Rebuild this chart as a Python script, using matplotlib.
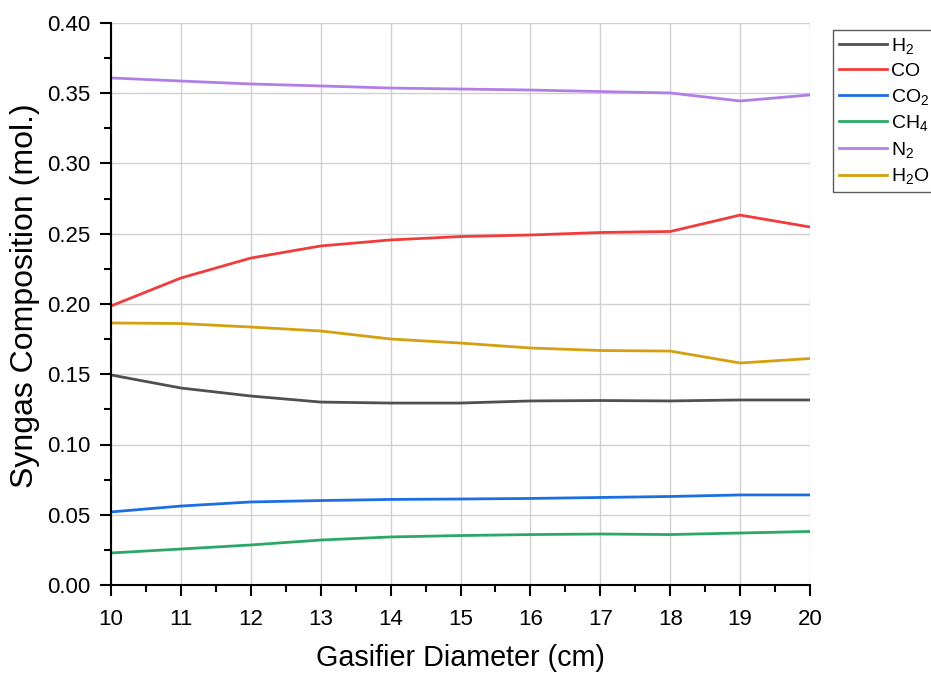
import matplotlib
matplotlib.use("Agg")
import matplotlib.pyplot as plt
from matplotlib.ticker import MultipleLocator, FormatStrFormatter

plt.rcParams['font.family'] = ['Liberation Sans', 'DejaVu Sans']
plt.rcParams['mathtext.default'] = 'regular'

diameter = [10, 11, 12, 13, 14, 15, 16, 17, 18, 19, 20]
h2 = [0.1495, 0.1402, 0.1345, 0.1302, 0.1295, 0.1295, 0.1310, 0.1313, 0.1310, 0.1317, 0.1317]
co = [0.1986, 0.2185, 0.2327, 0.2413, 0.2456, 0.2480, 0.2491, 0.2509, 0.2516, 0.2633, 0.2548]
co2 = [0.0520, 0.0562, 0.0591, 0.0601, 0.0609, 0.0612, 0.0616, 0.0623, 0.0630, 0.0641, 0.0641]
ch4 = [0.0228, 0.0256, 0.0285, 0.0320, 0.0342, 0.0352, 0.0359, 0.0363, 0.0359, 0.0370, 0.0381]
n2 = [0.3609, 0.3587, 0.3566, 0.3552, 0.3537, 0.3530, 0.3523, 0.3512, 0.3502, 0.3445, 0.3488]
h2o = [0.1865, 0.1861, 0.1836, 0.1808, 0.1751, 0.1722, 0.1687, 0.1669, 0.1665, 0.1580, 0.1612]

series = [
    ("H$_2$", h2, "#505050"),
    ("CO", co, "#f03c3c"),
    ("CO$_2$", co2, "#1c6fe0"),
    ("CH$_4$", ch4, "#2ca866"),
    ("N$_2$", n2, "#b27ee6"),
    ("H$_2$O", h2o, "#d4a010"),
]

fig = plt.figure(figsize=(9.31, 6.74), dpi=100)
ax = fig.add_axes([111/931, 89/674, (810-111)/931, (585-23)/674])

for label, vals, color in series:
    ax.plot(diameter, vals, color=color, lw=2, label=label)

ax.set_xlim(10, 20)
ax.set_ylim(0, 0.40)
ax.xaxis.set_major_locator(MultipleLocator(1))
ax.xaxis.set_minor_locator(MultipleLocator(0.5))
ax.yaxis.set_major_locator(MultipleLocator(0.05))
ax.yaxis.set_minor_locator(MultipleLocator(0.025))
ax.yaxis.set_major_formatter(FormatStrFormatter('%.2f'))
ax.grid(True, which='major', color='#d0d0d0', lw=1)
ax.set_axisbelow(True)
for s in ['top', 'right']:
    ax.spines[s].set_visible(False)
for s in ['left', 'bottom']:
    ax.spines[s].set_linewidth(1.5)
ax.tick_params(which='major', direction='out', length=8, width=1.5, labelsize=16)
ax.tick_params(axis='x', which='major', pad=9)
ax.tick_params(axis='y', which='major', pad=7)
ax.tick_params(which='minor', direction='out', length=5, width=1.5)
ax.set_xlabel("Gasifier Diameter (cm)", fontsize=20.7, labelpad=10)
ax.set_ylabel("Syngas Composition (mol.)", fontsize=23)
ax.yaxis.set_label_coords(-0.1016, 0.515)

leg = fig.legend(loc='upper left', bbox_to_anchor=(833/931, 1 - 30/674),
                 frameon=True, fancybox=False, fontsize=14, handlelength=2.5,
                 handletextpad=0.2, borderpad=0.3, labelspacing=0.34,
                 borderaxespad=0, handleheight=0.7)
leg.get_frame().set_edgecolor('#333333')
leg.get_frame().set_linewidth(1.0)

fig.savefig("out.png", dpi=100)
